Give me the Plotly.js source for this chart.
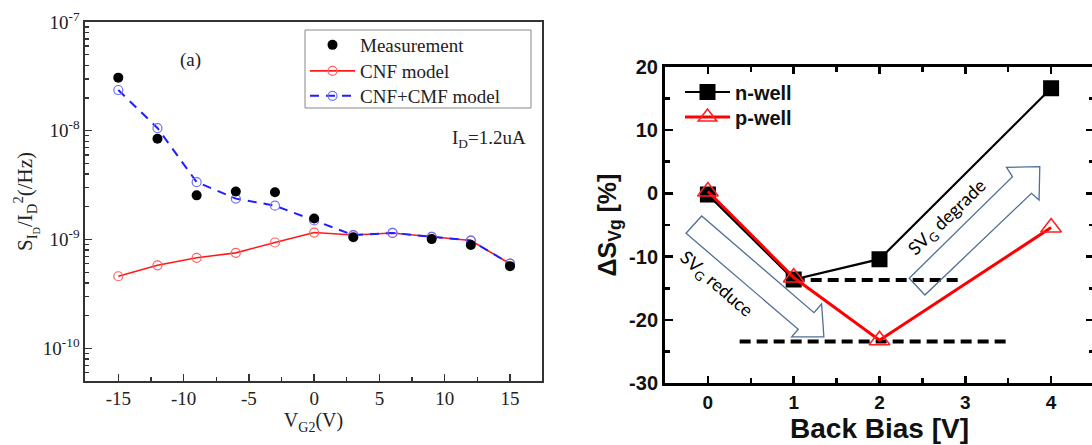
<!DOCTYPE html>
<html><head><meta charset="utf-8">
<script src="https://cdn.plot.ly/plotly-3.0.1.min.js"></script>
<style>html,body{margin:0;padding:0;overflow:hidden;background:#fff}#chart{width:1096px;height:445px}</style>
</head><body><div id="chart"></div>
<script>
// ---- Panel (a): noise vs V_G2 ----
const vg2 = [-15, -12, -9, -6, -3, 0, 3, 6, 9, 12, 15];
const measX = [-15, -12, -9, -6, -3, 0, 3, 9, 12, 15];
const measY = [3.08e-8, 8.45e-9, 2.55e-9, 2.77e-9, 2.72e-9, 1.56e-9, 1.05e-9, 1.01e-9, 8.9e-10, 5.7e-10];
const cnfY = [4.6e-10, 5.8e-10, 6.8e-10, 7.55e-10, 9.4e-10, 1.16e-9, 1.1e-9, 1.15e-9, 1.06e-9, 0.98e-9, 6.0e-10];
const cmfY = [2.37e-8, 1.06e-8, 3.38e-9, 2.38e-9, 2.05e-9, 1.5e-9, 1.1e-9, 1.15e-9, 1.06e-9, 0.98e-9, 6.0e-10];
const leftXTicks = [-15, -10, -5, 0, 5, 10, 15];
const leftXLabels = ['-15', '-10', '-5', '0', '5', '10', '15'];
const leftYTicks = [1e-10, 1e-9, 1e-8, 1e-7];
const leftYLabels = ['10<sup>-10</sup>', '10<sup>-9</sup>', '10<sup>-8</sup>', '10<sup>-7</sup>'];

// ---- Panel (b): delta S_Vg vs back bias ----
const backBias = [0, 1, 2, 4];
const nWell = [-0.2, -13.6, -10.4, 16.6];
const pWell = [0.3, -13.3, -23.2, -5.4];
const refHighX = [1.0, 2.93];
const refHighY = [-13.7, -13.7];
const refLowX = [0.37, 3.49];
const refLowY = [-23.4, -23.4];
const rightXTicks = [0, 1, 2, 3, 4];
const rightXLabels = ['0', '1', '2', '3', '4'];
const rightYTicks = [-30, -20, -10, 0, 10, 20];
const rightYLabels = ['-30', '-20', '-10', '0', '10', '20'];

const W = 1096, H = 445;
const serif = 'Liberation Serif, Times New Roman, serif';
const sans = 'Liberation Sans, Arial, sans-serif';
const calib = 'Lato, Open Sans, sans-serif';

const traces = [
  {x: vg2, y: cnfY, name: 'CNF model', mode: 'lines+markers', xaxis: 'x', yaxis: 'y', legend: 'legend3',
   line: {color: '#ff1a1a', width: 1.6},
   marker: {symbol: 'circle-open', size: 9, color: '#ff6060', line: {width: 1.2}}},
  {x: vg2, y: cmfY, name: 'CNF+CMF model', mode: 'lines+markers', xaxis: 'x', yaxis: 'y', legend: 'legend4',
   line: {color: '#1f1fff', width: 2, dash: '9px,7px'},
   marker: {symbol: 'circle-open', size: 9, color: '#7070ff', line: {width: 1.2}}},
  {x: measX, y: measY, name: 'Measurement', mode: 'markers', xaxis: 'x', yaxis: 'y', legend: 'legend',
   marker: {symbol: 'circle', size: 10, color: '#000'}},

  {x: refHighX, y: refHighY, mode: 'lines', xaxis: 'x2', yaxis: 'y2', showlegend: false,
   line: {color: '#000', width: 4, dash: '11px,6px'}},
  {x: refLowX, y: refLowY, mode: 'lines', xaxis: 'x2', yaxis: 'y2', showlegend: false,
   line: {color: '#000', width: 4, dash: '11px,6px'}},
  {x: backBias, y: nWell, name: 'n-well', mode: 'lines+markers', xaxis: 'x2', yaxis: 'y2', legend: 'legend2',
   line: {color: '#000', width: 2.2},
   marker: {symbol: 'square', size: 16, color: '#000'}},
  {x: backBias, y: pWell, name: 'p-well', mode: 'lines+markers', xaxis: 'x2', yaxis: 'y2', legend: 'legend5',
   line: {color: '#ff0000', width: 3},
   marker: {symbol: 'triangle-up-open', size: 18, color: '#ff2020', line: {width: 1.6}}}
];

const arrowColor = '#4f6f96';
function path(pts) { return 'M' + pts.map(p => p[0] + ',' + p[1]).join(' L') + ' Z'; }
const reduceArrow = [[-0.255, -6.31], [-0.0725, -3.575], [1.236, -18.84], [1.325, -17.47], [1.352, -22.68], [0.976, -22.68], [1.053, -21.47]];
const degradeArrow = [[2.529, -16.05], [2.346, -13.41], [3.550, 2.63], [3.480, 4.11], [3.868, 4.21], [3.860, -1.05], [3.771, 0.01]];

function leg(xpx, ypx, font) {
  return {x: xpx / W, y: 1 - ypx / H, xanchor: 'left', yanchor: 'middle',
    borderwidth: 0, bgcolor: 'rgba(0,0,0,0)', font: font, itemwidth: 45, tracegroupgap: 0};
}
const legFontL = {family: serif, size: 19, color: '#222'};
const legFontR = {family: sans, size: 20, color: '#111', weight: 'bold'};

const layout = {
  width: W, height: H,
  margin: {l: 0, r: 0, t: 0, b: 0},
  paper_bgcolor: '#fff', plot_bgcolor: 'rgba(0,0,0,0)',
  showlegend: true,
  xaxis: {
    domain: [85 / W, 542 / W], anchor: 'y', range: [-17.55, 17.45],
    tickmode: 'array', tickvals: leftXTicks, ticktext: leftXLabels,
    ticks: 'inside', ticklen: 7, tickwidth: 1.3, tickcolor: '#333',
    minor: {dtick: 2.5, tick0: 0, ticks: 'inside', ticklen: 4, tickwidth: 1.3, tickcolor: '#333'},
    showline: true, linecolor: '#333', linewidth: 1.6, mirror: true,
    showgrid: false, zeroline: false,
    tickfont: {family: serif, size: 19, color: '#222'},
    title: {text: 'V<sub>G2</sub>(V)', font: {family: serif, size: 20, color: '#222'}, standoff: 4}
  },
  yaxis: {
    domain: [1 - 381 / H, 1 - 22 / H], anchor: 'x', type: 'log', range: [-10.3, -7],
    tickmode: 'array', tickvals: leftYTicks, ticktext: leftYLabels,
    ticks: 'inside', ticklen: 7, tickwidth: 1.3, tickcolor: '#333',
    minor: {dtick: 'D1', ticks: 'inside', ticklen: 4, tickwidth: 1.3, tickcolor: '#333'},
    showline: true, linecolor: '#333', linewidth: 1.6, mirror: true,
    showgrid: false, zeroline: false,
    tickfont: {family: serif, size: 19, color: '#222'},
    title: {text: 'S<sub>I<sub>D</sub></sub>/I<sub>D</sub><sup>2</sup>(/Hz)', font: {family: serif, size: 21, color: '#222'}, standoff: 4}
  },
  xaxis2: {
    domain: [665 / W, 1094 / W], anchor: 'y2', range: [-0.5, 4.5],
    tickmode: 'array', tickvals: rightXTicks, ticktext: rightXLabels,
    ticks: 'inside', ticklen: 7, tickwidth: 2.5, tickcolor: '#000',
    minor: {dtick: 0.5, tick0: 0, ticks: 'inside', ticklen: 5, tickwidth: 2.5, tickcolor: '#000'},
    showline: true, linecolor: '#000', linewidth: 3, mirror: 'ticks',
    showgrid: false, zeroline: false,
    tickfont: {family: sans, size: 19, color: '#111', weight: 'bold'},
    title: {text: 'Back Bias [V]', font: {family: sans, size: 28, color: '#111', weight: 'bold'}, standoff: 5}
  },
  yaxis2: {
    domain: [1 - 383.3 / H, 1 - 66.7 / H], anchor: 'x2', range: [-30, 20],
    tickmode: 'array', tickvals: rightYTicks, ticktext: rightYLabels,
    ticks: 'inside', ticklen: 8, tickwidth: 2.5, tickcolor: '#000',
    minor: {dtick: 5, tick0: 0, ticks: 'inside', ticklen: 5, tickwidth: 2.5, tickcolor: '#000'},
    showline: true, linecolor: '#000', linewidth: 3, mirror: 'ticks',
    showgrid: false, zeroline: false,
    tickfont: {family: sans, size: 20, color: '#111', weight: 'bold'},
    title: {text: 'ΔS<sub>Vg</sub> [%]', font: {family: sans, size: 25, color: '#111', weight: 'bold'}, standoff: 6}
  },
  legend: leg(305, 45, legFontL),
  legend3: leg(305, 71, legFontL),
  legend4: leg(305, 96, legFontL),
  legend2: leg(680, 92, legFontR),
  legend5: leg(680, 117, legFontR),
  shapes: [
    {type: 'rect', xref: 'paper', yref: 'paper', x0: 305 / W, x1: 531 / W, y0: 1 - 108 / H, y1: 1 - 30 / H,
     line: {color: '#888', width: 1}, fillcolor: 'rgba(0,0,0,0)'},
    {type: 'path', xref: 'x2', yref: 'y2', path: path(reduceArrow), line: {color: arrowColor, width: 1.3}, fillcolor: 'rgba(0,0,0,0)'},
    {type: 'path', xref: 'x2', yref: 'y2', path: path(degradeArrow), line: {color: arrowColor, width: 1.3}, fillcolor: 'rgba(0,0,0,0)'}
  ],
  annotations: [
    {text: '(a)', xref: 'paper', yref: 'paper', x: 178 / W, y: 1 - 47 / H, showarrow: false,
     font: {family: serif, size: 19, color: '#222'}},
    {text: 'I<sub>D</sub>=1.2uA', xref: 'paper', yref: 'paper', x: 528 / W, y: 1 - 125 / H, xanchor: 'right', showarrow: false,
     font: {family: serif, size: 19, color: '#222'}},
    {text: 'SV<sub>G</sub> reduce', xref: 'x2', yref: 'y2', x: 0.094, y: -14.47, textangle: 41, showarrow: false,
     font: {family: calib, size: 18, color: '#000'}},
    {text: 'SV<sub>G</sub> degrade', xref: 'x2', yref: 'y2', x: 2.796, y: -3.89, textangle: -44, showarrow: false,
     font: {family: calib, size: 18, color: '#000'}}
  ]
};

Plotly.newPlot('chart', traces, layout, {displayModeBar: false, staticPlot: true});
</script>
</body></html>
